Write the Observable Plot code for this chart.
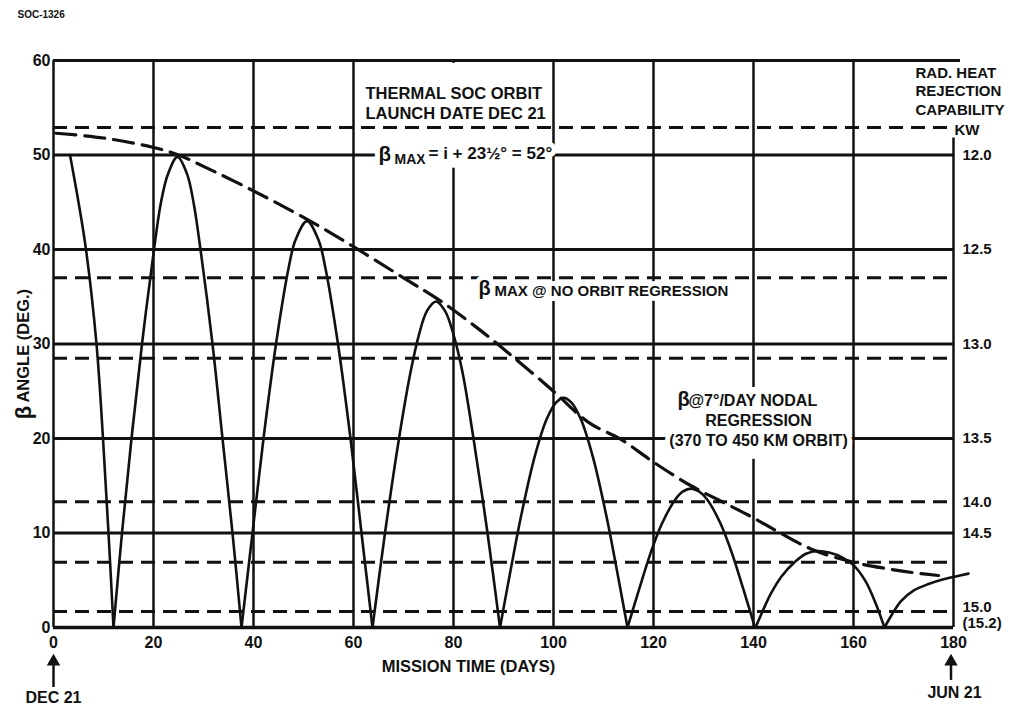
<!DOCTYPE html>
<html><head><meta charset="utf-8">
<script src="https://cdn.jsdelivr.net/npm/d3@7"></script>
<script src="https://cdn.jsdelivr.net/npm/@observablehq/plot@0.6"></script>
<style>
body{margin:0;background:#fff;}
#chart svg{display:block;}
</style></head><body><div id="chart"></div>
<script>
// ---- data ----
const xTicks = [0, 20, 40, 60, 80, 100, 120, 140, 160, 180];
const yTicks = [0, 10, 20, 30, 40, 50, 60];
const solidLevels = [10, 20, 30, 40, 50];
const dashedLevels = [52.9, 37.0, 28.5, 13.3, 6.9, 1.7];
const kwLabelPos = [50, 40, 30, 20, 13.3, 10, 2.1, 0.5];
const kwLabels = ["12.0", "12.5", "13.0", "13.5", "14.0", "14.5", "15.0", "(15.2)"];

// beta angle with 7 deg/day nodal regression: one arc per half-period
const arc0 = [[3.3,50],[5.0,45],[6.5,40],[8.6,30],[9.9,20],[11.0,10],[12.0,0]];
const arc1 = [[12.0,0],[13.7,10],[15.6,20],[17.7,30],[20.1,40],[21.5,45],[22.9,48],[24.8,49.8],[26.7,48],[28.0,45],[29.4,40],[31.8,30],[33.8,20],[35.8,10],[37.6,0]];
const arc2 = [[37.6,0],[39.8,10],[42.0,20],[44.5,30],[47.0,38],[48.4,41],[50.7,43],[53.0,41],[54.4,38],[56.9,30],[59.4,20],[61.6,10],[63.8,0]];
const arc3 = [[63.8,0],[66.3,10],[69.1,20],[71.4,27],[73.1,31],[74.7,33.5],[76.5,34.5],[78.3,33.5],[80.0,31],[81.8,27],[84.0,20],[86.8,10],[89.3,0]];
const arc4 = [[89.3,0],[91.4,6],[93.6,12],[96.2,18],[98.6,22],[100.5,23.8],[102.0,24.3],[103.6,23.8],[105.5,22],[107.9,18],[110.5,12],[112.7,6],[114.8,0]];
const arc5 = [[114.8,0],[117.1,4],[119.5,8],[121.7,11],[124.3,13.5],[125.9,14.4],[127.5,14.7],[129.1,14.4],[130.8,13.5],[133.4,11],[135.6,8],[138.0,4],[140.3,0]];
const arc6 = [[140.4,0],[141.8,1.7],[143.5,3.6],[145.6,5.4],[148.2,6.9],[150.5,7.8],[152.8,8.1],[155.3,7.9],[157.8,7.4],[160.0,6.6],[162.4,4.9],[164.4,2.6],[166.2,0]];
const arc7 = [[166.2,0],[167.6,1.3],[169.5,2.8],[172,3.9],[175,4.6],[178,5.1],[180,5.35],[183,5.7]];

// beta max with no orbit regression (dashed envelope)
const envelope = [[0.5,52.3],[10,51.8],[20,50.8],[25,50.0],[30,48.8],[40,46.2],[50,43.4],[60,40.3],[70,37.0],[77,34.7],[85,31.6],[92,28.6],[100,25.0],[107,21.7],[113.5,19.9],[120,17.5],[127.5,15.0],[134.5,13.1],[140,11.6],[145,10.1],[152,8.2],[160,6.9],[167,6.2],[172,5.8],[177,5.5]];

const arcs = [arc0, arc1, arc2, arc3, arc4, arc5, arc6, arc7];
const arcTable = arcs.flatMap((a, i) => a.map(([x, y]) => ({arc: i, x, y})));
const envTable = envelope.map(([x, y]) => ({x, y}));

const INK = "#111";
const FONT = "'Liberation Sans', Arial, Helvetica, sans-serif";

function label(str, x, y, o = {}) {
  return Plot.text([str], {x: () => x, y: () => y, text: d => d, fontSize: 16, fontWeight: "bold", fill: INK, ...o});
}
const halo = {stroke: "white", strokeWidth: 10};

const chart = Plot.plot({
  width: 1018, height: 704,
  marginLeft: 53, marginRight: 65, marginTop: 60, marginBottom: 77,
  x: {domain: [0, 180], axis: null},
  y: {domain: [0, 60], axis: null},
  style: {fontFamily: FONT, background: "white", overflow: "visible"},
  marks: [
    // vertical grid
    Plot.ruleX(xTicks.slice(0, -1), {y1: 0, y2: 60, stroke: INK, strokeWidth: 2.5}),
    Plot.ruleX([180], {y1: 0, y2: 51.8, stroke: INK, strokeWidth: 2.5}),
    // white annotation panels
    Plot.rect([0], {x1: 62.6, x2: 98.6, y1: 48.6, y2: 59.7, fill: "white"}),
    Plot.rect([0], {x1: 121.6, x2: 159.6, y1: 17.8, y2: 25.4, fill: "white"}),
    // horizontal lines
    Plot.ruleY(solidLevels, {x1: 0, x2: 180, stroke: INK, strokeWidth: 3}),
    Plot.ruleY([60], {x1: 0, x2: 181.4, stroke: INK, strokeWidth: 3}),
    Plot.ruleY(dashedLevels, {x1: 0, x2: 180, stroke: INK, strokeWidth: 3, strokeDasharray: "14,8"}),
    Plot.ruleY([0], {x1: 0, x2: 180, stroke: INK, strokeWidth: 3.5}),
    // curves
    Plot.line(envTable, {x: "x", y: "y", curve: "catmull-rom", stroke: INK, strokeWidth: 3.2, strokeDasharray: "20,9"}),
    Plot.line(arcTable, {x: "x", y: "y", z: "arc", curve: "catmull-rom", stroke: INK, strokeWidth: 2.6}),
    // annotations
    label("THERMAL SOC ORBIT", 62.4, 56.5, {textAnchor: "start", fontSize: 16.5}),
    label("LAUNCH DATE DEC 21", 62.4, 54.4, {textAnchor: "start", fontSize: 16.5}),
    label("\u03B2", 65, 50, {textAnchor: "start", fontSize: 21, dy: -1, ...halo}),
    label("MAX", 68.2, 50, {textAnchor: "start", fontSize: 14, dy: 5, ...halo}),
    label("= i + 23\u00BD\u00B0 = 52\u00B0", 75, 50, {textAnchor: "start", fontSize: 17, dy: -1, ...halo}),
    label("\u03B2", 85, 35.8, {textAnchor: "start", fontSize: 20, dy: -1, ...halo}),
    label("MAX @ NO ORBIT REGRESSION", 88.2, 35.8, {textAnchor: "start", fontSize: 15, dy: 2, ...halo}),
    label("@7\u00B0/DAY NODAL", 127.0, 24.0, {textAnchor: "start", fontSize: 16, ...halo}),
    label("\u03B2", 124.8, 24.0, {textAnchor: "start", fontSize: 20, dy: -1}),
    label("REGRESSION", 141, 21.9, {fontSize: 16, ...halo}),
    label("(370 TO 450 KM ORBIT)", 141, 19.8, {fontSize: 16, ...halo}),
    label("RAD. HEAT", 172.4, 58.7, {textAnchor: "start", fontSize: 15}),
    label("REJECTION", 172.4, 56.8, {textAnchor: "start", fontSize: 15}),
    label("CAPABILITY", 172.4, 54.7, {textAnchor: "start", fontSize: 15}),
    label("KW", 180.2, 52.6, {textAnchor: "start", fontSize: 15}),
    label("SOC-1326", -7.2, 64.8, {textAnchor: "start", fontSize: 10}),
    // tick labels
    Plot.text(xTicks, {x: d => d, y: () => -1.6, text: d => String(d), fontSize: 16, fontWeight: "bold", fill: INK}),
    Plot.text(yTicks, {x: () => -0.6, y: d => d, text: d => String(d), textAnchor: "end", fontSize: 16, fontWeight: "bold", fill: INK}),
    Plot.text(kwLabels, {x: () => 181.8, y: (d, i) => kwLabelPos[i], text: d => d, textAnchor: "start", fontSize: 15, fontWeight: "bold", fill: INK}),
    // axis titles
    label("MISSION TIME (DAYS)", 83, -4.2, {fontSize: 16.5}),
    label("ANGLE (DEG.)", -6, 23.8, {textAnchor: "start", rotate: -90, fontSize: 16.5}),
    label("\u03B2", -6, 22.75, {rotate: -90, fontSize: 22}),
    // date arrows
    Plot.ruleX([0], {y1: -6.35, y2: -3.8, stroke: INK, strokeWidth: 2.5}),
    Plot.ruleX([179.5], {y1: -5.6, y2: -3.8, stroke: INK, strokeWidth: 2.5}),
    Plot.dot([0, 179.5], {x: d => d, y: () => -3.6, symbol: "triangle", r: 5, fill: INK, stroke: "none"}),
    label("DEC 21", 0, -7.4, {fontSize: 16}),
    label("JUN 21", 180.2, -6.9, {fontSize: 16})
  ]
});
document.getElementById("chart").appendChild(chart);
</script>
</body></html>
